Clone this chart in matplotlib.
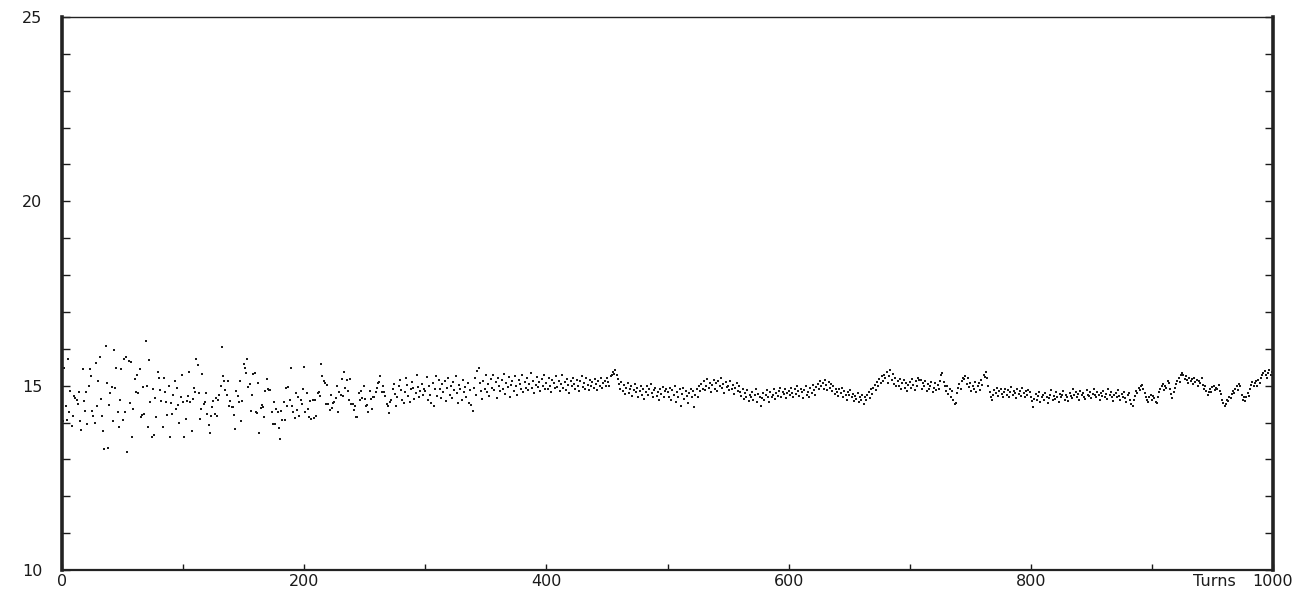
import numpy as np
import matplotlib
matplotlib.use("Agg")
import matplotlib.pyplot as plt
from matplotlib.ticker import MultipleLocator

# values, 100 turns per list
turns_000 = [14.68, 14.05, 15.48, 14.44, 14.06, 15.72, 14.28, 14.86, 13.9, 14.17, 14.73, 14.67, 14.6, 14.51, 14.82,
             14.04, 13.79, 15.45, 14.58, 14.32, 14.83, 13.96, 15.0, 15.45, 15.25, 14.31, 14.19, 13.99, 15.62, 14.44,
             15.14, 15.77, 14.65, 14.17, 13.76, 13.27, 16.08, 15.07, 13.32, 14.47, 14.79, 14.96, 14.03, 15.97, 14.93,
             15.49, 14.28, 13.89, 14.62, 15.45, 14.07, 15.73, 14.28, 15.79, 13.2, 15.68, 14.52, 15.65, 13.62, 14.38,
             15.17, 14.84, 15.29, 14.8, 15.44, 14.14, 14.2, 14.97, 14.23, 16.22, 14.99, 13.89, 15.69, 14.55, 13.61,
             14.91, 13.65, 14.66, 14.14, 15.38, 15.21, 14.89, 14.59, 13.89, 15.21, 14.83, 14.55, 14.21, 15.0, 13.61,
             14.54, 14.22, 14.74, 15.12, 14.36, 14.95, 14.48, 13.98, 14.7, 15.3]
turns_100 = [14.55, 13.61, 14.1, 14.58, 14.73, 15.38, 14.55, 13.76, 14.65, 14.93, 14.82, 15.72, 15.55, 14.8, 14.1,
             14.37, 15.32, 14.51, 14.55, 14.8, 14.23, 13.92, 13.72, 14.19, 14.41, 14.59, 14.22, 14.67, 14.19, 14.62,
             14.76, 15.0, 16.04, 15.27, 15.14, 14.89, 14.76, 15.14, 14.44, 14.58, 14.41, 14.42, 14.21, 13.83, 14.86,
             14.71, 14.55, 15.14, 14.04, 14.58, 15.59, 15.48, 15.34, 15.72, 14.96, 15.05, 14.3, 14.76, 15.32, 15.34,
             14.28, 14.25, 15.07, 13.72, 14.4, 14.48, 14.43, 14.14, 14.85, 15.18, 14.91, 14.87, 14.89, 14.28, 13.95,
             14.55, 13.96, 14.37, 14.28, 13.85, 13.54, 14.31, 14.06, 14.55, 14.08, 14.94, 14.44, 14.96, 14.62, 15.48,
             14.46, 14.28, 14.13, 14.8, 14.35, 14.7, 14.18, 14.62, 14.5, 14.9]
turns_200 = [15.5, 14.28, 14.8, 14.38, 14.15, 14.58, 14.1, 14.6, 14.12, 14.6, 14.17, 14.8, 14.84, 14.71, 15.59,
             15.25, 15.12, 15.07, 14.51, 15.03, 14.5, 14.33, 14.76, 14.4, 14.52, 14.55, 14.67, 15.0, 14.28, 14.82,
             14.76, 15.18, 14.71, 15.38, 14.95, 15.16, 14.85, 14.6, 15.18, 14.51, 14.5, 14.33, 14.44, 14.15, 14.14,
             14.8, 14.6, 14.85, 14.66, 15.0, 14.63, 14.44, 14.48, 14.28, 14.86, 14.63, 14.36, 14.68, 14.68, 14.84,
             14.94, 15.07, 15.11, 15.25, 14.84, 15.0, 14.84, 14.71, 14.49, 14.44, 14.26, 14.55, 14.62, 14.9, 15.05,
             14.78, 14.45, 14.7, 14.98, 15.15, 14.88, 14.6, 14.52, 14.83, 15.2, 15.02, 14.73, 14.57, 14.9, 15.1,
             14.95, 14.65, 14.8, 15.28, 14.97, 14.7, 14.86, 15.05, 14.76, 14.92]
turns_300 = [14.85, 15.23, 14.62, 15.0, 14.76, 14.53, 15.08, 14.44, 14.9, 15.27, 14.72, 15.16, 14.91, 14.66, 15.05,
             14.83, 15.12, 14.58, 14.95, 15.2, 14.74, 14.98, 14.67, 15.1, 14.88, 15.25, 14.79, 14.53, 15.02, 14.92,
             14.61, 15.15, 14.84, 14.97, 14.7, 15.08, 14.53, 14.87, 14.48, 14.31, 14.95, 15.2, 14.76, 15.41, 15.48,
             15.06, 14.86, 14.64, 15.12, 14.9, 15.3, 14.82, 15.05, 14.72, 15.18, 14.95, 15.28, 14.88, 15.1, 14.67,
             15.22, 15.0, 14.85, 15.15, 14.92, 15.33, 14.78, 15.07, 14.96, 15.24, 14.7, 15.02, 15.12, 14.86, 15.26,
             14.98, 14.75, 15.16, 15.04, 14.9, 15.3, 14.82, 15.1, 14.95, 15.2, 14.88, 15.05, 15.35, 14.93, 15.14,
             14.8, 15.02, 15.24, 14.97, 15.11, 14.85, 15.18, 15.0, 15.28, 14.92]
turns_400 = [15.06, 14.9, 15.2, 15.0, 14.82, 15.15, 15.08, 14.93, 15.25, 14.97, 15.12, 14.86, 15.04, 15.3, 14.95,
             15.1, 14.88, 15.18, 15.02, 14.8, 15.14, 14.98, 15.22, 15.05, 14.9, 15.16, 15.0, 14.85, 15.12, 15.26,
             14.96, 15.08, 14.9, 15.2, 15.03, 14.87, 15.15, 14.99, 15.1, 14.93, 15.18, 15.05, 14.88, 15.12, 15.0,
             15.22, 14.95, 15.08, 15.14, 14.98, 15.2, 15.1, 15.0, 15.25, 15.3, 15.38, 15.32, 15.42, 15.28, 15.18,
             15.05, 14.92, 15.1, 14.85, 15.02, 14.78, 14.95, 15.06, 14.8, 14.9, 15.0, 14.72, 14.88, 15.04, 14.82,
             14.95, 14.7, 14.86, 15.0, 14.76, 14.92, 14.65, 14.84, 14.98, 14.74, 14.9, 15.05, 14.8, 14.68, 14.87,
             14.95, 14.72, 14.83, 14.6, 14.9, 14.78, 14.97, 14.7, 14.85, 14.92]
turns_500 = [14.82, 14.7, 14.95, 14.62, 14.88, 14.75, 14.98, 14.55, 14.84, 14.68, 14.9, 14.44, 14.78, 14.95, 14.65,
             14.86, 14.72, 14.52, 14.8, 14.92, 14.68, 14.85, 14.43, 14.76, 14.9, 14.7, 14.98, 14.86, 15.05, 14.92,
             15.12, 14.88, 15.0, 15.18, 14.95, 15.08, 14.82, 15.02, 15.15, 14.9, 15.06, 14.85, 15.12, 14.98, 15.2,
             14.93, 15.04, 14.8, 15.1, 14.96, 15.0, 14.87, 15.14, 14.92, 15.03, 14.78, 14.95, 15.08, 14.86, 14.98,
             14.82, 14.72, 14.9, 14.65, 14.8, 14.7, 14.88, 14.58, 14.76, 14.68, 14.84, 14.62, 14.74, 14.9, 14.56,
             14.78, 14.7, 14.46, 14.66, 14.8, 14.6, 14.74, 14.88, 14.7, 14.55, 14.82, 14.68, 14.76, 14.9, 14.64,
             14.8, 14.72, 14.86, 14.95, 14.7, 14.84, 14.78, 14.92, 14.66, 14.8]
turns_600 = [14.86, 14.74, 14.95, 14.8, 14.68, 14.9, 14.78, 15.0, 14.85, 14.72, 14.92, 14.82, 14.66, 14.88, 14.98,
             14.76, 14.84, 14.7, 14.93, 14.8, 15.02, 14.87, 14.75, 14.96, 15.05, 14.9, 15.12, 14.98, 15.08, 14.92,
             15.15, 15.02, 14.88, 15.1, 14.95, 15.04, 14.86, 14.98, 14.78, 14.92, 14.84, 14.72, 14.9, 14.8, 14.95,
             14.7, 14.86, 14.76, 14.62, 14.82, 14.74, 14.88, 14.68, 14.78, 14.58, 14.72, 14.64, 14.8, 14.55, 14.7,
             14.62, 14.76, 14.5, 14.68, 14.6, 14.74, 14.82, 14.66, 14.9, 14.78, 14.95, 15.02, 14.88, 15.1, 15.0,
             15.18, 15.06, 15.25, 15.12, 15.3, 15.2, 15.38, 15.08, 15.26, 15.42, 15.15, 15.32, 15.05, 15.22, 14.98,
             15.12, 15.0, 15.18, 14.9, 15.06, 15.15, 14.95, 15.08, 14.86, 15.02]
turns_700 = [15.1, 14.95, 15.18, 15.02, 14.88, 15.12, 15.0, 15.2, 15.15, 15.16, 14.92, 15.08, 15.0, 15.14, 14.86,
             15.05, 14.9, 14.98, 15.1, 14.82, 14.95, 15.06, 14.88, 15.02, 14.9, 15.12, 15.3, 15.35, 15.1, 14.98,
             14.85, 15.0, 14.78, 14.92, 14.7, 14.85, 14.62, 14.5, 14.52, 14.8, 14.95, 15.05, 14.9, 15.12, 15.22,
             15.18, 15.25, 15.05, 15.2, 14.96, 15.08, 14.85, 15.0, 14.9, 15.1, 14.82, 14.98, 15.06, 14.88, 15.15,
             15.02, 15.3, 15.24, 15.38, 15.2, 15.0, 14.82, 14.7, 14.6, 14.75, 14.88, 14.8, 14.95, 14.72, 14.86,
             14.9, 14.78, 14.68, 14.84, 14.92, 14.76, 14.88, 14.7, 14.82, 14.96, 14.74, 14.86, 14.8, 14.66, 14.9,
             14.78, 14.85, 14.72, 14.94, 14.8, 14.68, 14.86, 14.75, 14.88, 14.82]
turns_800 = [14.7, 14.58, 14.42, 14.65, 14.78, 14.6, 14.72, 14.84, 14.55, 14.68, 14.76, 14.62, 14.8, 14.7, 14.52,
             14.66, 14.74, 14.88, 14.6, 14.72, 14.64, 14.82, 14.7, 14.56, 14.78, 14.68, 14.74, 14.85, 14.62, 14.76,
             14.7, 14.58, 14.8, 14.72, 14.66, 14.9, 14.75, 14.82, 14.68, 14.78, 14.62, 14.86, 14.74, 14.8, 14.7,
             14.64, 14.88, 14.76, 14.72, 14.84, 14.66, 14.78, 14.92, 14.74, 14.68, 14.82, 14.76, 14.6, 14.8, 14.72,
             14.86, 14.7, 14.78, 14.64, 14.9, 14.76, 14.82, 14.7, 14.58, 14.74, 14.8, 14.68, 14.88, 14.72, 14.62,
             14.78, 14.7, 14.84, 14.66, 14.56, 14.74, 14.8, 14.62, 14.5, 14.44, 14.6, 14.72, 14.85, 14.8, 14.95,
             14.88, 15.0, 15.03, 14.92, 14.8, 14.7, 14.62, 14.55, 14.68, 14.75]
turns_900 = [14.6, 14.72, 14.66, 14.55, 14.53, 14.7, 14.82, 14.9, 14.98, 15.05, 14.88, 15.0, 14.95, 15.12, 15.08,
             14.9, 14.78, 14.67, 14.82, 14.95, 15.05, 15.14, 15.2, 15.1, 15.28, 15.34, 15.3, 15.18, 15.25, 15.15,
             15.08, 15.22, 15.12, 15.18, 15.05, 15.2, 15.1, 15.15, 15.0, 15.14, 15.06, 15.2, 15.02, 14.92, 15.0,
             14.85, 14.76, 14.82, 14.9, 14.84, 14.96, 15.0, 14.88, 14.95, 14.9, 15.02, 14.86, 14.78, 14.6, 14.52,
             14.44, 14.5, 14.62, 14.58, 14.7, 14.66, 14.78, 14.85, 14.8, 14.92, 14.98, 14.88, 15.05, 15.0, 14.75,
             14.62, 14.7, 14.58, 14.68, 14.8, 14.72, 14.9, 15.02, 15.1, 14.98, 15.06, 15.12, 15.0, 15.15, 15.08,
             15.2, 15.28, 15.35, 15.39, 15.3, 15.22, 15.35, 15.42, 15.3, 15.38]

segments = [turns_000, turns_100, turns_200, turns_300, turns_400,
            turns_500, turns_600, turns_700, turns_800, turns_900]
x_ticks = [0, 200, 400, 600, 800, 1000]
y_ticks = [10, 15, 20, 25]

fig = plt.figure(figsize=(13.06, 5.95), dpi=100)
ax = fig.add_axes([62/1306, 1 - 570/595, (1273-62)/1306, (570-17)/595])

for i, seg in enumerate(segments):
    xs = np.arange(len(seg)) + i * 100
    ax.plot(xs, seg, ls='none', marker='s', ms=1.5, mew=0, color='#1a1a1a')

ax.set_xlim(0, 1000)
ax.set_ylim(10, 25)
ax.set_xticks(x_ticks)
ax.set_yticks(y_ticks)
ax.xaxis.set_minor_locator(MultipleLocator(100))
ax.yaxis.set_minor_locator(MultipleLocator(1))
ax.tick_params(axis='y', which='both', direction='in', length=6, width=1.0,
               left=True, right=True, pad=14, labelsize=11.5, colors='#1a1a1a')
ax.tick_params(axis='x', which='both', direction='in', length=4, width=1.0,
               bottom=True, top=False, pad=3, labelsize=11.5, colors='#1a1a1a')

ax.spines['left'].set_linewidth(2.6)
ax.spines['right'].set_linewidth(2.6)
ax.spines['bottom'].set_linewidth(1.6)
ax.spines['top'].set_linewidth(1.0)
for s in ax.spines.values():
    s.set_color('#222222')

ax.annotate('Turns', xy=(1000, 0), xycoords=('data', 'axes fraction'),
            xytext=(-27, -3), textcoords='offset points',
            ha='right', va='top', fontsize=11.5, color='#1a1a1a')

fig.savefig('out.png', dpi=100)
